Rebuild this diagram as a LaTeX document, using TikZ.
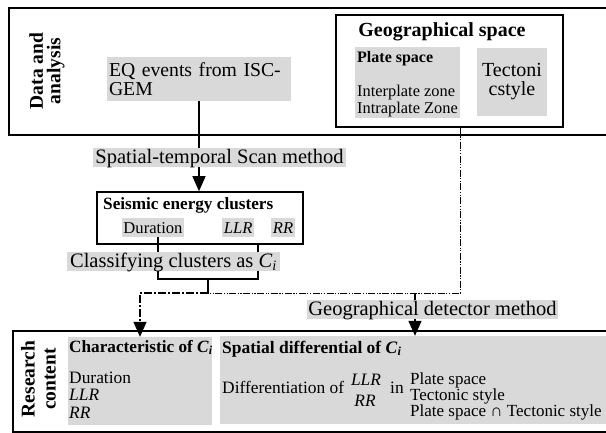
\documentclass[tikz,border=0pt]{standalone}
\usepackage{fontspec}
\setmainfont{Liberation Serif}
\usepackage{tikz}
\usetikzlibrary{shapes, arrows.meta, positioning, backgrounds}
\definecolor{boxgray}{RGB}{217,217,217}

\begin{document}
\begin{tikzpicture}[x=1pt, y=-1pt,
        boxframe/.style={draw, line width=1.6pt, inner sep=0pt},
        greybox/.style={fill=boxgray, inner sep=0pt},
        lbl/.style={greybox, inner ysep=0.5pt, text height=15pt, text depth=3pt, font=\fontsize{20.5}{20}\selectfont},
        minilbl/.style={greybox, inner xsep=1.5pt, inner ysep=0.5pt, text height=15pt, text depth=3pt, font=\fontsize{16.6}{18}\selectfont},
        sidetxt/.style={rotate=90, align=center, font=\bfseries\fontsize{19.5}{17.5}\selectfont},
        bodytxt/.style={anchor=base west, inner sep=0pt, font=\fontsize{17.4}{18}\selectfont},
        headtxt/.style={anchor=base west, inner sep=0pt, font=\bfseries\fontsize{17.2}{18}\selectfont},
        arr/.style={-{Triangle[length=15pt, width=13pt]}, line width=1.4pt},
        link/.style={line width=1.4pt},
        geoline/.style={line width=1pt, dash pattern=on 7pt off 1.5pt on 1.2pt off 1.5pt on 1.2pt off 1.5pt},
        cline/.style={line width=1.2pt, dash pattern=on 8pt off 2pt on 2pt off 2pt}]
        \useasboundingbox (0,0) rectangle (606,432);
        \clip (0,0) rectangle (606,432);

        % Frames
        \node (data) [boxframe, anchor=north west, minimum width=620pt, minimum height=127pt] at (8,7) {};
        \node (datalbl) [sidetxt] at (47,71) {Data and\\analysis};
        \node (geo) [boxframe, minimum width=227pt, minimum height=112pt] at (449.5,71) {};
        \node (seis) [boxframe, minimum width=206pt, minimum height=52pt] at (200,218) {};
        \node (res) [boxframe, anchor=north west, minimum width=620pt, minimum height=101pt] at (12,330) {};
        \node (reslbl) [sidetxt, font=\bfseries\fontsize{19.5}{21}\selectfont] at (38.5,379) {Research\\content};

        % Data and geographical space
        \node (eq) [greybox, minimum width=184pt, minimum height=44pt, text width=180pt, align=left, font=\fontsize{19.7}{19.5}\selectfont] at (199,79) {EQ events from ISC-\\GEM};
        \node (geohead) [anchor=base, inner sep=0pt, font=\bfseries\fontsize{20}{20}\selectfont] at (442,36) {Geographical space};
        \node (plate) [greybox, minimum width=105pt, minimum height=71pt] at (407.5,82.5) {};
        \node (platehead) [headtxt, font=\bfseries\fontsize{16}{16}\selectfont] at (357,62) {Plate space};
        \node (inter) [bodytxt, font=\fontsize{16.4}{16}\selectfont] at (357,96) {Interplate zone};
        \node (intra) [bodytxt, font=\fontsize{16.4}{16}\selectfont] at (357,113) {Intraplate Zone};
        \node (tect) [greybox, minimum width=70pt, minimum height=68pt, align=center, font=\fontsize{20}{19}\selectfont] at (512,82) {Tectoni\\cstyle};

        % Seismic energy clusters
        \node (scan) [lbl, minimum width=253pt] at (219.5,157.5) {Spatial-temporal Scan method};
        \node (seishead) [headtxt] at (103,209) {Seismic energy clusters};
        \node (dur) [minilbl] at (153,227.5) {Duration};
        \node (llr) [minilbl, right=38pt of dur] {\textit{LLR}};
        \node (rr) [minilbl, right=17pt of llr] {\textit{RR}};
        \node (cls) [lbl, minimum width=213pt] at (173.5,261.5) {Classifying clusters as \textit{C}\textsubscript{\textit{i}}};
        \coordinate (cmid) at (208,279);
        \coordinate (join) at (208,293);
        \coordinate (gd) at (415,293);

        % Research content
        \node (gdet) [lbl, minimum width=251pt] at (432.5,309.5) {Geographical detector method};
        \node (char) [greybox, minimum width=144pt, minimum height=88pt] at (140,381) {};
        \node (charhead) [headtxt] at (69,352) {Characteristic of \textit{C}\textsubscript{\textit{i}}};
        \foreach \y/\t [count=\i] in {383/Duration, 400/\textit{LLR}, 418/\textit{RR}}
            \node (item\i) [bodytxt] at (69,\y) {\t};
        \node (spat) [greybox, minimum width=400pt, minimum height=88pt] at (420,380) {};
        \node (spathead) [headtxt, font=\bfseries\fontsize{17.5}{18}\selectfont] at (222,353) {Spatial differential of \textit{C}\textsubscript{\textit{i}}};
        \node (diff) [bodytxt] at (222,393) {Differentiation of};
        \node (dllr) [anchor=base, inner sep=0pt, font=\itshape\fontsize{17.4}{18}\selectfont] at (366,385) {LLR};
        \node (drr) [anchor=base, inner sep=0pt, font=\itshape\fontsize{17.4}{18}\selectfont] at (365,406) {RR};
        \node (din) [bodytxt] at (390,393) {in};
        \foreach \y/\t [count=\i] in {384/Plate space, 400/Tectonic style, 416/Plate space ∩ Tectonic style}
            \node (place\i) [bodytxt, font=\fontsize{17}{18}\selectfont] at (410,\y) {\t};

        % Arrows
        \begin{scope}[on background layer]
            \draw[arr] (eq.south) -- (eq.south |- seis.north);
            \draw[link] ([xshift=5pt]dur.south) |- (cmid) -| ([xshift=58pt]seis.south);
            \draw[link] (cmid) -- (join);
            \draw[geoline] (geo.south -| plate.east) |- (join);
            \draw[cline, arr] (join) -| (char.north);
            \draw[arr] (gd) -- (gd |- spat.north);
        \end{scope}
    \end{tikzpicture}
\end{document}
